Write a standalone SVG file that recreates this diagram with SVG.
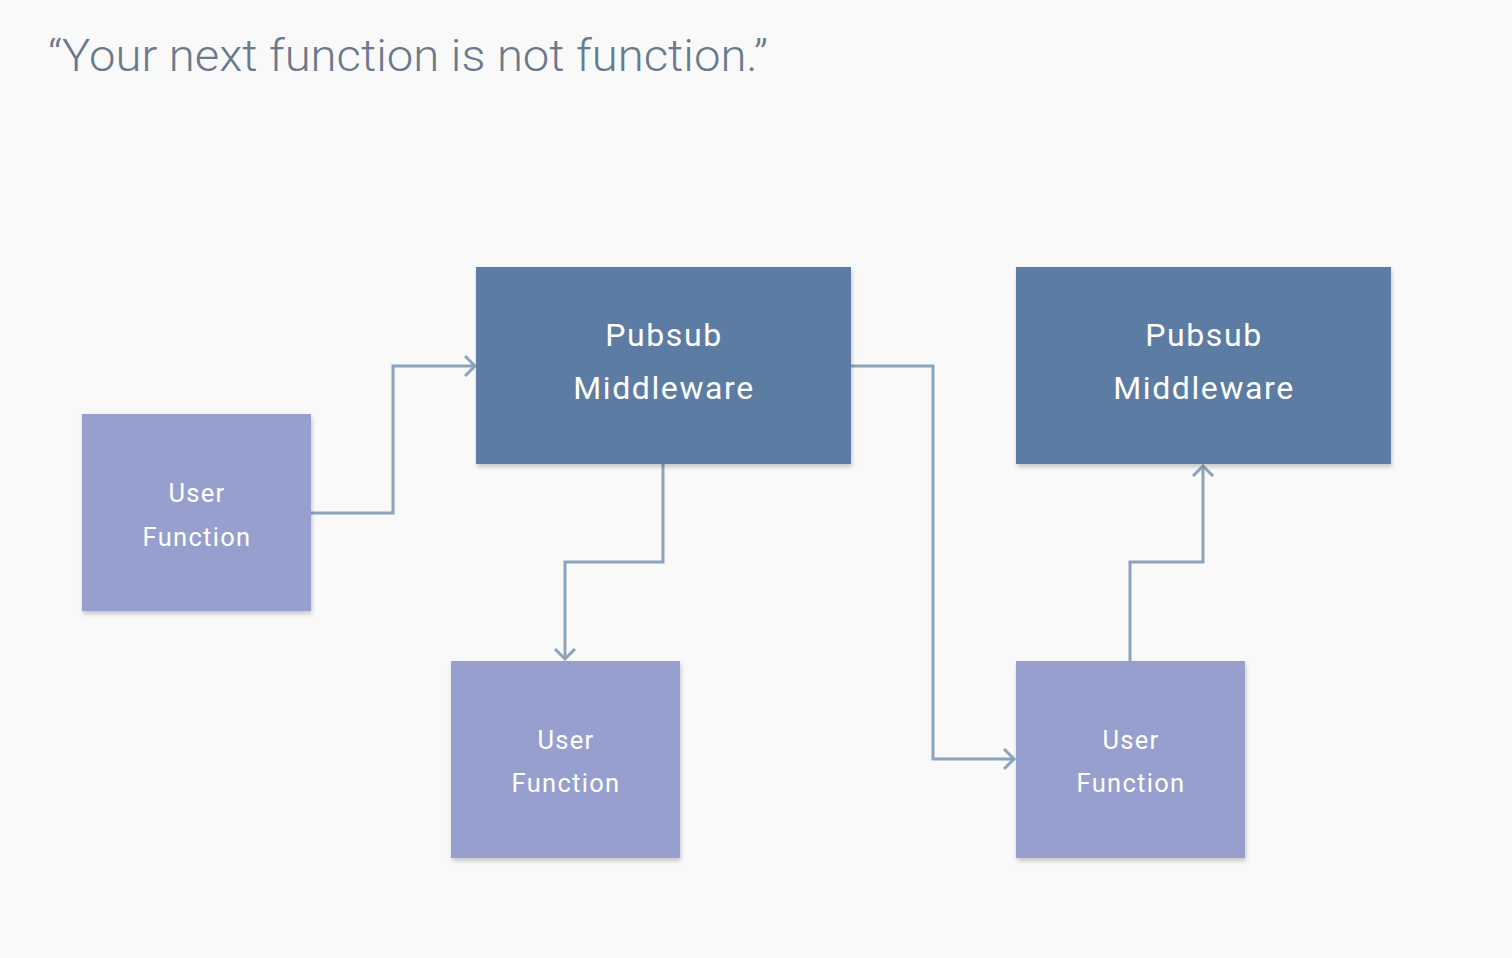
<svg xmlns="http://www.w3.org/2000/svg" width="1512" height="958" viewBox="0 0 1512 958">
<defs>
<style>
.mw{fill:#5b7ca3}
.uf{fill:#979fcf}
.t{font-family:Roboto,"Liberation Sans",sans-serif;fill:#ffffff;text-anchor:middle}
.big{font-size:32px;letter-spacing:1.6px}
.small{font-size:25.5px;letter-spacing:1.3px}
.c{fill:none;stroke:#8ba3bb;stroke-width:3;marker-end:url(#arr)}
</style>
<filter id="sh" x="-5%" y="-5%" width="115%" height="115%">
<feDropShadow dx="1" dy="3" stdDeviation="2" flood-color="#000" flood-opacity="0.2"/>
</filter>
<marker id="arr" markerWidth="14" markerHeight="24" refX="11" refY="12" orient="auto" markerUnits="userSpaceOnUse">
<path d="M1,2 L11,12 L1,22" fill="none" stroke="#8ba3bb" stroke-width="3"/>
</marker>
</defs>
<rect width="1512" height="958" fill="#f9f9f9"/>
<text x="48" y="71" font-family="Roboto,'Liberation Sans',sans-serif" font-size="44" font-weight="300" fill="#6a7a8c" textLength="720" lengthAdjust="spacingAndGlyphs">“Your next function is not function.”</text>
<g id="connectors">
<path class="c" d="M311,513 H393 V366 H475"/>
<path class="c" d="M663,464 V562 H565 V659"/>
<path class="c" d="M851,366 H933 V759 H1014"/>
<path class="c" d="M1130,661 V562 H1203 V466"/>
</g>
<g id="pubsub1">
<rect class="mw" x="476" y="267" width="375" height="197" filter="url(#sh)"/>
<text class="t big" x="664" y="346">Pubsub</text>
<text class="t big" x="664" y="399">Middleware</text>
</g>
<g id="pubsub2">
<rect class="mw" x="1016" y="267" width="375" height="197" filter="url(#sh)"/>
<text class="t big" x="1204" y="346">Pubsub</text>
<text class="t big" x="1204" y="399">Middleware</text>
</g>
<g id="userfn1">
<rect class="uf" x="82" y="414" width="229" height="197" filter="url(#sh)"/>
<text class="t small" x="197" y="502">User</text>
<text class="t small" x="197" y="546">Function</text>
</g>
<g id="userfn2">
<rect class="uf" x="451" y="661" width="229" height="197" filter="url(#sh)"/>
<text class="t small" x="566" y="749">User</text>
<text class="t small" x="566" y="792">Function</text>
</g>
<g id="userfn3">
<rect class="uf" x="1016" y="661" width="229" height="197" filter="url(#sh)"/>
<text class="t small" x="1131" y="749">User</text>
<text class="t small" x="1131" y="792">Function</text>
</g>
</svg>
